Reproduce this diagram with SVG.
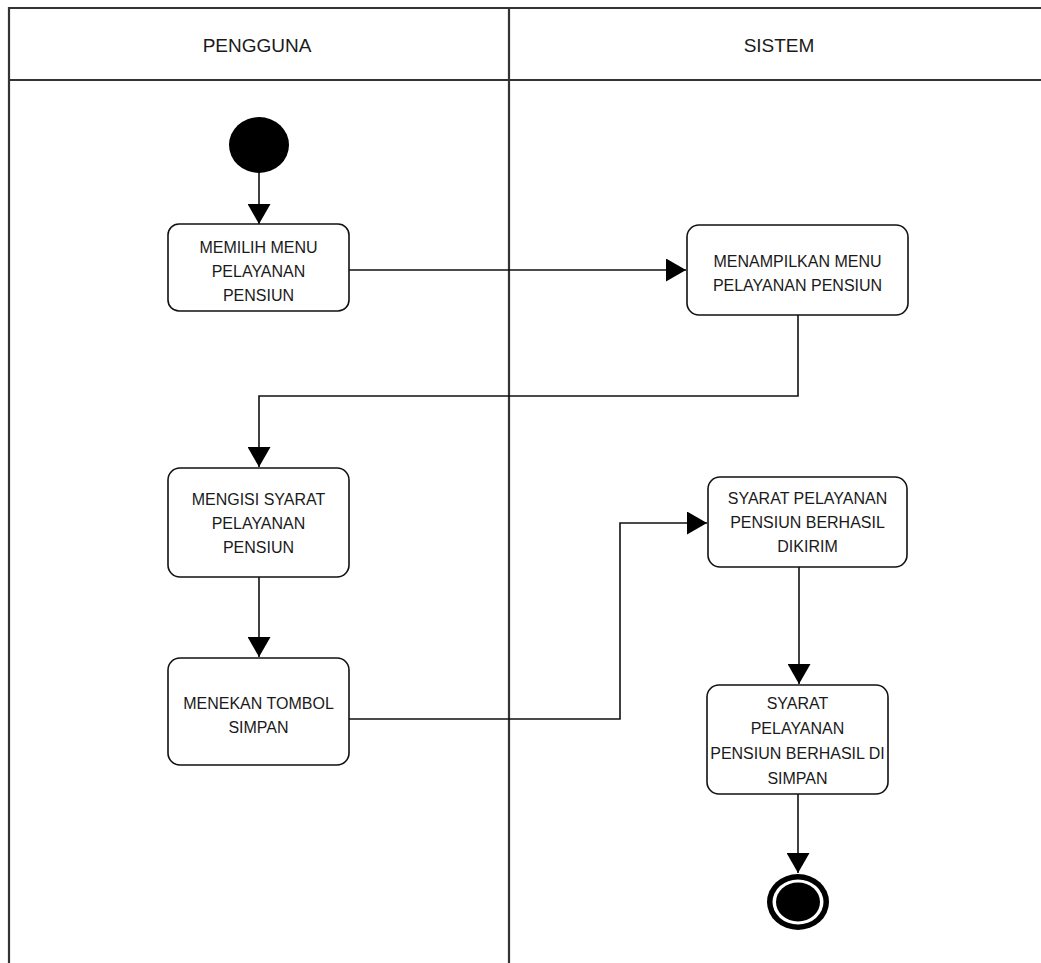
<svg xmlns="http://www.w3.org/2000/svg" width="1041" height="963" viewBox="0 0 1041 963">
<defs>
<style>
.frame{stroke:#333;stroke-width:2.2;fill:none}
.box{fill:#fff;stroke:#111;stroke-width:1.6}
.conn{stroke:#111;stroke-width:1.6;fill:none}
.t{font-family:"Liberation Sans",Arial,sans-serif;font-size:16px;fill:#1a1a1a;text-anchor:middle}
.h{font-family:"Liberation Sans",Arial,sans-serif;font-size:19px;fill:#1a1a1a;text-anchor:middle}
</style>
<marker id="arr" markerUnits="userSpaceOnUse" markerWidth="21" markerHeight="23" refX="20" refY="11.5" orient="auto">
<path d="M0,0 L20,11.5 L0,23 z" fill="#000"/>
</marker>
</defs>
<rect width="1041" height="963" fill="#fff"/>
<g id="swimlanes">
<path class="frame" d="M9,975 V8 H1050 M9,80 H1050 M509,8 V975"/>
<text class="h" x="257" y="52">PENGGUNA</text>
<text class="h" x="779" y="52">SISTEM</text>
</g>
<g id="connectors">
<path class="conn" d="M259,172 V224" marker-end="url(#arr)"/>
<path class="conn" d="M349,270 H686" marker-end="url(#arr)"/>
<path class="conn" d="M798,315 V396 H259 V467" marker-end="url(#arr)"/>
<path class="conn" d="M259,577 V657" marker-end="url(#arr)"/>
<path class="conn" d="M349,719 H620 V523 H707" marker-end="url(#arr)"/>
<path class="conn" d="M799,567 V684" marker-end="url(#arr)"/>
<path class="conn" d="M798,794 V873" marker-end="url(#arr)"/>
</g>
<g id="start">
<ellipse cx="259" cy="145" rx="30" ry="28" fill="#000"/>
</g>
<g id="n1">
<rect class="box" x="168" y="224" width="181" height="87" rx="11"/>
<text class="t" x="258.5" y="253">MEMILIH MENU</text>
<text class="t" x="258.5" y="277">PELAYANAN</text>
<text class="t" x="258.5" y="301">PENSIUN</text>
</g>
<g id="n2">
<rect class="box" x="687" y="225" width="221" height="90" rx="12"/>
<text class="t" x="797.5" y="267">MENAMPILKAN MENU</text>
<text class="t" x="797.5" y="291">PELAYANAN PENSIUN</text>
</g>
<g id="n3">
<rect class="box" x="168" y="468" width="181" height="109" rx="12"/>
<text class="t" x="258.5" y="505">MENGISI SYARAT</text>
<text class="t" x="258.5" y="529">PELAYANAN</text>
<text class="t" x="258.5" y="553">PENSIUN</text>
</g>
<g id="n4">
<rect class="box" x="168" y="658" width="181" height="107" rx="12"/>
<text class="t" x="258.5" y="709">MENEKAN TOMBOL</text>
<text class="t" x="258.5" y="733">SIMPAN</text>
</g>
<g id="n5">
<rect class="box" x="708" y="477" width="199" height="90" rx="12"/>
<text class="t" x="807.5" y="504">SYARAT PELAYANAN</text>
<text class="t" x="807.5" y="528">PENSIUN BERHASIL</text>
<text class="t" x="807.5" y="552">DIKIRIM</text>
</g>
<g id="n6">
<rect class="box" x="707" y="685" width="181" height="109" rx="12"/>
<text class="t" x="797.5" y="709">SYARAT</text>
<text class="t" x="797.5" y="734">PELAYANAN</text>
<text class="t" x="797.5" y="759">PENSIUN BERHASIL DI</text>
<text class="t" x="797.5" y="784">SIMPAN</text>
</g>
<g id="end">
<ellipse cx="798" cy="902" rx="31" ry="28" fill="#000"/>
<ellipse cx="798" cy="902" rx="25.5" ry="22.5" fill="#fff"/>
<ellipse cx="798" cy="902" rx="22" ry="19.5" fill="#000"/>
</g>
</svg>
